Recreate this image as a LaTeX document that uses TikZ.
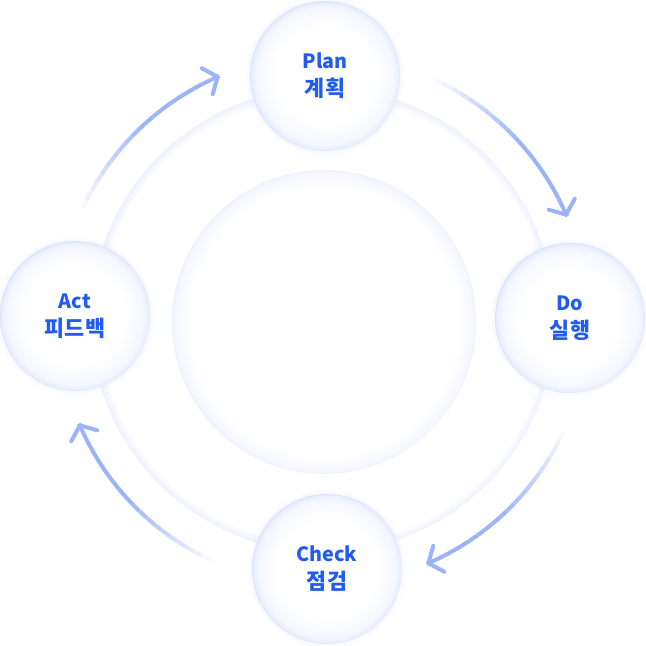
\documentclass[tikz,border=0pt]{standalone}
\usepackage{fontspec}
\newfontfamily\krfont{Noto Sans CJK KR Black}
\usetikzlibrary{arrows.meta,calc}

\definecolor{labelblue}{HTML}{1F5BF4}
\definecolor{arrowblue}{HTML}{9AB3FA}
\definecolor{bubblemid}{HTML}{F5F7FF}
\definecolor{bubbleedge}{HTML}{E9EEFD}
\definecolor{bubblerim}{HTML}{DCE3FB}
\definecolor{ringedge}{HTML}{EDF1FE}

\pgfdeclareradialshading{bubble}{\pgfpointorigin}{color(0bp)=(white); color(16bp)=(white);
  color(22.8bp)=(bubblemid); color(24.5bp)=(bubbleedge); color(25bp)=(bubblerim); color(50bp)=(bubblerim)}
\pgfdeclareradialshading{ring}{\pgfpointorigin}{color(0bp)=(white); color(24bp)=(white);
  color(25bp)=(ringedge); color(50bp)=(ringedge)}
\pgfdeclareradialshading{core}{\pgfpointorigin}{color(0bp)=(white); color(22bp)=(white);
  color(24.5bp)=(bubblemid); color(25bp)=(ringedge); color(50bp)=(ringedge)}

\tikzset{
  stage/.style={circle, inner sep=0pt, minimum size=3.75cm, shade, shading=bubble,
    align=center, text=labelblue, font=\krfont\fontsize{14}{20}\selectfont},
  glow/.style={fill=bubblerim, opacity=#1},
  cyclearrow/.style={line width=0.1cm},
}

\begin{document}
\begin{tikzpicture}[x=0.025cm,y=0.025cm]
  \useasboundingbox (0,0) rectangle (646,646);
  \coordinate (c) at (323,326);
  % background ring and core
  \shade[shading=ring] (c) circle (232);
  \shade[shading=core] (324,324) circle (152);
  % arrows, fading in along the arc
  \foreach \k in {0,1,2,3} {
    \foreach \i in {1,...,20} {
      \pgfmathsetmacro\a{65+90*\k-(\i-1)*2.1}
      \pgfmathsetmacro\b{\a-2.1}
      \pgfmathtruncatemacro\p{min(100,\i*9)}
      \draw[cyclearrow, arrowblue!\p!white] ($(c)+(\a:265)$) arc[start angle=\a, end angle=\b, radius=265];
    }
    \pgfmathsetmacro\e{23+90*\k}
    \draw[cyclearrow, arrowblue, -{Straight Barb[length=8pt, width=20pt, round]}]
      ($(c)+(\e+1:265)$) arc[start angle=\e+1, end angle=\e, radius=265];
  }
  % stages
  \foreach \name/\x/\y/\top/\bot in {plan/325/570/Plan/계획, do/570/328/Do/실행,
      check/327/77/Check/점검, act/75/330/Act/피드백} {
    \foreach \d/\o in {5/0.07, 2.5/0.12}
      \fill[glow=\o] (\x,\y) circle (75+\d);
    \node[stage] (\name) at (\x,\y) {\top\\{\fontsize{15.5}{20}\selectfont \bot}};
  }
\end{tikzpicture}
\end{document}
